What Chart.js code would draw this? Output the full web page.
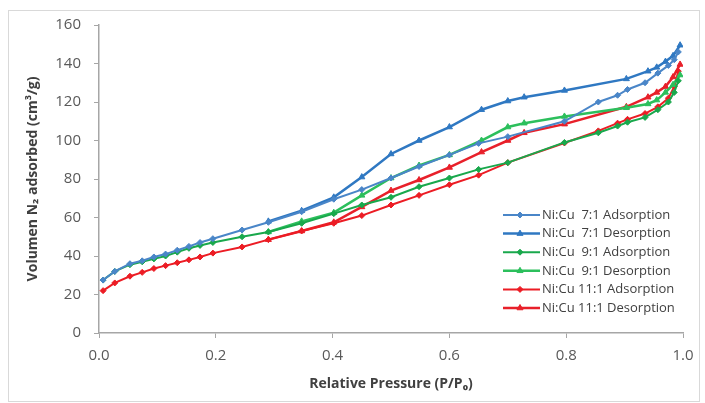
<!DOCTYPE html>
<html lang="en">
<head>
<meta charset="UTF-8">
<title>N2 isotherms</title>
<style>
    * { margin: 0; padding: 0; box-sizing: border-box; }
    body { width: 705px; height: 403px; background: #fff; position: relative; overflow: hidden; }
    .frame {
        position: absolute;
        left: 8px; top: 10px;
        width: 692px; height: 392px;
        border: 1px solid #d9d9d9;
        pointer-events: none;
    }
    #chart { position: absolute; left: 0; top: 0; }
</style>
</head>
<body>
<div class="frame"></div>
<canvas id="chart" width="705" height="403"></canvas>

<script src="https://cdn.jsdelivr.net/npm/chart.js"></script>
<script>
// relative pressure points
var adsX = [0.007, 0.027, 0.053, 0.074, 0.094, 0.114, 0.134, 0.154, 0.173, 0.195, 0.245, 0.29, 0.347, 0.402,
            0.45, 0.5, 0.548, 0.6, 0.65, 0.7, 0.797, 0.855, 0.888, 0.905, 0.935, 0.957, 0.975, 0.985, 0.992];
var desX = [0.995, 0.983, 0.97, 0.955, 0.94, 0.903, 0.797, 0.728, 0.7, 0.655, 0.6, 0.548, 0.5, 0.45, 0.402, 0.347, 0.29];

// volume adsorbed (cm3/g)
var ads71 = [27.5, 32, 36, 37.5, 39.5, 41, 43, 45, 47, 49, 53.5, 57.5, 63, 69.5,
             74.5, 80.5, 86.5, 92.5, 98.5, 102, 110, 120, 123.5, 126.5, 130, 135, 139, 142, 146];
var des71 = [149.5, 144, 141, 138, 136, 132, 126, 122.5, 120.5, 116, 107, 100, 93, 81, 70.5, 63.5, 58];
var ads91 = [27.5, 32, 35.5, 37, 38.5, 40, 42, 44, 45.5, 47, 50, 52.5, 57, 62,
             66.5, 70.5, 76, 80.5, 85, 88.5, 99, 104, 107.5, 109.5, 112, 116, 120, 125, 131];
var des91 = [134, 129, 125, 121, 119, 117, 112.5, 109, 107, 100, 92.5, 87, 80.5, 71.5, 62.5, 58, 52.5];
var ads111 = [22, 26, 29.5, 31.5, 33.5, 35, 36.5, 38, 39.5, 41.5, 44.7, 48.5, 53, 57,
              61, 66.5, 71.5, 77, 82, 88.5, 98.7, 105, 109, 111, 114, 117.5, 122, 128, 136];
var des111 = [139.5, 133, 128, 125, 122.5, 117.5, 108.5, 104, 100, 94, 86, 79.5, 74, 65.5, 57.5, 53, 48.5];

var labels = ['Ni:Cu  7:1 Adsorption', 'Ni:Cu  7:1 Desorption', 'Ni:Cu  9:1 Adsorption',
              'Ni:Cu  9:1 Desorption', 'Ni:Cu 11:1 Adsorption', 'Ni:Cu 11:1 Desorption'];

function pts(xs, ys) {
    return xs.map(function (x, i) { return { x: x, y: ys[i] }; });
}

function adsSet(label, xs, ys, color) {
    return {
        label: label, data: pts(xs, ys), showLine: true,
        borderColor: color, backgroundColor: color,
        pointBackgroundColor: color, pointBorderColor: color,
        borderWidth: 2, pointStyle: 'rectRot', pointRadius: 3, pointBorderWidth: 1
    };
}

function desSet(label, xs, ys, color) {
    return {
        label: label, data: pts(xs, ys), showLine: true,
        borderColor: color, backgroundColor: color,
        pointBackgroundColor: color, pointBorderColor: color,
        borderWidth: 2.5, pointStyle: 'triangle', pointRadius: 3.5, pointBorderWidth: 1
    };
}

// legend drawn inside the plot, lower right
var insideLegend = {
    id: 'insideLegend',
    afterDatasetsDraw: function (chart, args, opts) {
        var ctx = chart.ctx;
        ctx.save();
        ctx.font = '13px "Open Sans"';
        ctx.textBaseline = 'middle';
        ctx.textAlign = 'left';
        chart.data.datasets.forEach(function (ds, i) {
            var y = opts.top + i * opts.rowHeight;
            ctx.strokeStyle = ds.borderColor;
            ctx.lineWidth = ds.borderWidth;
            ctx.beginPath();
            ctx.moveTo(opts.left, y);
            ctx.lineTo(opts.left + 37, y);
            ctx.stroke();
            ctx.fillStyle = ds.pointBackgroundColor;
            ctx.lineWidth = 1;
            Chart.helpers.drawPoint(ctx, {
                pointStyle: ds.pointStyle, radius: ds.pointRadius, rotation: 0, borderWidth: 1
            }, opts.left + 17, y);
            ctx.fillStyle = '#404040';
            ctx.fillText(ds.label, opts.left + 39, y);
        });
        ctx.restore();
    }
};

var tickFont = { family: '"Open Sans"', size: 15 };
var titleFont = { family: '"Open Sans"', size: 14, weight: 'bold' };

new Chart(document.getElementById('chart'), {
    type: 'scatter',
    data: {
        datasets: [
            adsSet(labels[0], adsX, ads71, '#4a86c8'),
            desSet(labels[1], desX, des71, '#2f78c2'),
            adsSet(labels[2], adsX, ads91, '#19a84c'),
            desSet(labels[3], desX, des91, '#2cbf5c'),
            adsSet(labels[4], adsX, ads111, '#ec1c24'),
            desSet(labels[5], desX, des111, '#e8202a')
        ]
    },
    options: {
        responsive: false,
        animation: false,
        layout: { padding: { left: 12, right: 22, top: 25, bottom: 8 } },
        plugins: {
            legend: { display: false },
            tooltip: { enabled: false },
            insideLegend: { left: 503, top: 215, rowHeight: 18.6 }
        },
        scales: {
            x: {
                type: 'linear', min: 0, max: 1,
                ticks: { stepSize: 0.2, color: '#595959', font: tickFont, padding: 9,
                         callback: function (v) { return v.toFixed(1); } },
                grid: { drawOnChartArea: false, drawTicks: true, tickLength: 5, color: '#a6a6a6' },
                border: { color: '#a6a6a6', width: 1.5 },
                title: { display: true, text: 'Relative Pressure (P/P₀)', color: '#404040',
                         font: titleFont, padding: { top: 0, bottom: 3 } },
                afterFit: function (s) { s.height = 62; }
            },
            y: {
                min: 0, max: 160,
                ticks: { stepSize: 20, color: '#595959', font: tickFont, padding: 13 },
                grid: { drawOnChartArea: false, drawTicks: true, tickLength: 5, color: '#a6a6a6' },
                border: { color: '#a6a6a6', width: 1.5 },
                title: { display: true, text: 'Volumen N₂ adsorbed (cm³/g)', color: '#404040',
                         font: titleFont, padding: { top: 13, bottom: 0 } },
                afterFit: function (s) { s.width = 87; }
            }
        }
    },
    plugins: [insideLegend]
});
</script>
</body>
</html>
